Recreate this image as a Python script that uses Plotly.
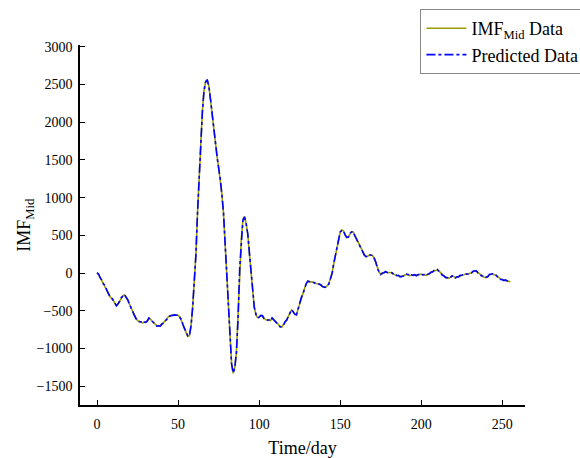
import plotly.graph_objects as go

days = list(range(256))

imf_mid = [
    0, -20, -60, -100, -140, -170, -220, -270, -310, -330,
    -360, -400, -430, -410, -370, -330, -300, -290, -320, -360,
    -410, -470, -510, -560, -600, -630, -640, -650, -660, -655,
    -650, -640, -600, -610, -640, -660, -680, -700, -705, -700,
    -680, -660, -640, -610, -580, -565, -560, -555, -560, -555,
    -560, -580, -620, -680, -740, -800, -840, -830, -700, -450,
    -150, 250, 800, 1300, 1800, 2150, 2420, 2540, 2560, 2480,
    2300, 2100, 1900, 1750, 1550, 1400, 1250, 1050, 800, 400,
    -50, -500, -930, -1200, -1330, -1250, -1050, -600, 50, 450,
    700, 750, 650, 520, 250, 0, -250, -450, -550, -590,
    -590, -560, -570, -600, -620, -620, -625, -630, -600, -615,
    -640, -660, -690, -710, -715, -690, -650, -620, -580, -530,
    -490, -510, -550, -550, -480, -400, -330, -270, -200, -140,
    -110, -110, -115, -120, -130, -140, -145, -145, -160, -175,
    -190, -185, -170, -140, -80, 0, 120, 230, 350, 450,
    540, 570, 560, 510, 470, 480, 520, 550, 545, 500,
    450, 420, 370, 320, 280, 240, 215, 220, 235, 240,
    230, 200, 140, 60, 10, -15, -5, 10, 15, 10,
    5, 10, 0, -15, -25, -30, -35, -45, -45, -35,
    -20, -15, -25, -35, -30, -25, -25, -30, -25, -15,
    -15, -20, -25, -30, -20, -5, 10, 20, 30, 35,
    40, 25, 0, -25, -40, -55, -65, -70, -55, -35,
    -45, -60, -55, -45, -35, -25, -20, -15, -15, -10,
    -5, 5, 20, 30, 25, 5, -15, -30, -45, -55,
    -60, -45, -25, -15, -15, -20, -30, -45, -65, -80,
    -90, -95, -95, -100, -110, -115,
]

predicted = [
    5, -15, -65, -95, -145, -165, -225, -265, -315, -325,
    -365, -395, -435, -405, -375, -325, -305, -285, -325, -355,
    -415, -465, -515, -555, -605, -625, -645, -645, -665, -650,
    -655, -635, -595, -615, -635, -665, -675, -705, -700, -705,
    -675, -665, -635, -615, -575, -570, -555, -560, -555, -560,
    -555, -585, -615, -685, -735, -805, -835, -835, -695, -455,
    -145, 245, 805, 1295, 1805, 2145, 2425, 2535, 2565, 2475,
    2305, 2095, 1905, 1745, 1555, 1395, 1255, 1045, 805, 395,
    -45, -505, -925, -1205, -1325, -1255, -1045, -605, 55, 445,
    705, 745, 655, 515, 255, -5, -245, -455, -545, -595,
    -585, -565, -565, -605, -615, -625, -620, -635, -595, -620,
    -635, -665, -685, -715, -710, -695, -645, -625, -575, -535,
    -485, -515, -545, -555, -475, -405, -325, -275, -195, -145,
    -105, -115, -110, -125, -125, -145, -140, -150, -155, -180,
    -185, -190, -165, -145, -75, -5, 125, 225, 355, 445,
    545, 565, 565, 505, 475, 475, 525, 545, 550, 495,
    455, 415, 375, 315, 285, 235, 220, 215, 240, 235,
    235, 195, 145, 55, 15, -20, 0, 5, 20, 5,
    10, 5, 5, -20, -20, -35, -30, -50, -40, -40,
    -15, -20, -20, -40, -25, -30, -20, -35, -20, -20,
    -10, -25, -20, -35, -15, -10, 15, 15, 35, 30,
    45, 20, 5, -30, -35, -60, -60, -75, -50, -40,
    -40, -65, -50, -50, -30, -30, -15, -20, -10, -15,
    0, 0, 25, 25, 30, 0, -10, -35, -40, -60,
    -55, -50, -20, -20, -10, -25, -25, -50, -60, -85,
    -85, -100, -90, -105, -105, -120,
]

x_ticks = [0, 50, 100, 150, 200, 250]
y_ticks = [-1500, -1000, -500, 0, 500, 1000, 1500, 2000, 2500, 3000]

FONT = "Liberation Serif, Times New Roman, serif"

fig = go.Figure()
fig.add_trace(go.Scatter(
    x=days, y=imf_mid, mode="lines",
    name="IMF<sub>Mid</sub> Data",
    line=dict(color="#9C9C00", width=1.6),
))
fig.add_trace(go.Scatter(
    x=days, y=predicted, mode="lines",
    name="Predicted Data",
    line=dict(color="#0000FF", width=1.6, dash="dashdot"),
))

fig.update_layout(
    width=580, height=458,
    margin=dict(l=80, r=55, t=45, b=53, autoexpand=False),
    paper_bgcolor="white", plot_bgcolor="white",
    font=dict(family=FONT, color="black", size=14),
    showlegend=True,
    legend=dict(
        x=0.765, y=1.1, xanchor="left", yanchor="top",
        bgcolor="white", bordercolor="#888888", borderwidth=1,
        font=dict(family=FONT, size=18, color="black"),
        tracegroupgap=0, itemwidth=40,
    ),
    xaxis=dict(
        range=[-10.5, 264],
        tickvals=x_ticks,
        ticks="inside", ticklen=5, tickwidth=1.2, tickcolor="black",
        ticklabelstandoff=5,
        showline=True, linecolor="black", linewidth=1.5, mirror=False,
        showgrid=False, zeroline=False, automargin=False,
        tickfont=dict(family=FONT, size=14, color="black"),
        title=dict(text="Time/day", font=dict(family=FONT, size=18, color="black")),
    ),
    yaxis=dict(
        range=[-1750, 3025],
        tickvals=y_ticks,
        ticks="inside", ticklen=5, tickwidth=1.2, tickcolor="black",
        ticklabelstandoff=3,
        showline=True, linecolor="black", linewidth=1.5, mirror=False,
        showgrid=False, zeroline=False, automargin=False,
        tickfont=dict(family=FONT, size=14, color="black"),
    ),
    annotations=[dict(
        text="IMF<sub>Mid</sub>", xref="paper", yref="paper",
        x=-0.124, y=0.5, xanchor="center", yanchor="middle",
        textangle=-90, showarrow=False,
        font=dict(family=FONT, size=18, color="black"),
    )],
)

fig.write_html("out.html")
